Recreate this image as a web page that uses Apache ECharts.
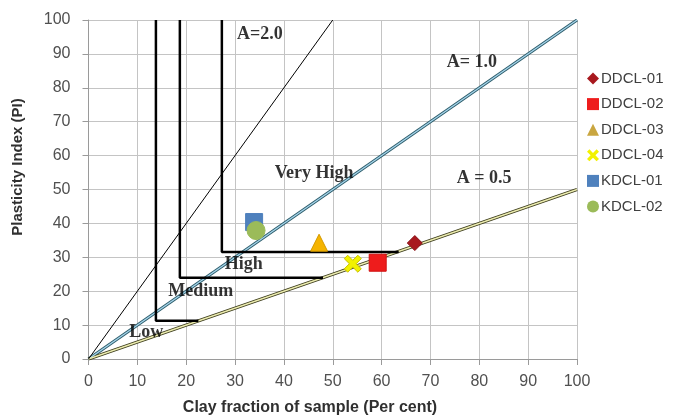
<!DOCTYPE html>
<html><head><meta charset="utf-8">
<script src="https://cdn.jsdelivr.net/npm/echarts@6/dist/echarts.min.js"></script>
<style>html,body{margin:0;padding:0;background:#fff}#c{width:696px;height:417px}</style>
</head><body><div id="c"></div>
<script>
var xTicks = [0,10,20,30,40,50,60,70,80,90,100];
var yTicks = [0,10,20,30,40,50,60,70,80,90,100];
var lineA20 = [[0,0],[50,100]];
var lineA10 = [[0,0],[100,100]];
var lineA05 = [[0,0],[100,50]];
var zoneLow = [[13.8,100],[13.8,11.3],[22.5,11.3]];
var zoneMedium = [[18.7,100],[18.7,24],[48,24]];
var zoneHigh = [[27.3,100],[27.3,31.6],[63.5,31.6]];
var sampleNames = ['DDCL-01','DDCL-02','DDCL-03','DDCL-04','KDCL-01','KDCL-02'];
var sampleCF = [66.8,59.2,47.2,54.1,33.9,34.3];
var samplePI = [34.2,28.4,34.3,28.1,40.4,37.9];
var annoText = ['A=2.0','A= 1.0','Very High','A = 0.5','High','Medium','Low'];
var annoX = [35.1,78.5,46.2,81.0,31.8,23.0,11.8];
var annoY = [95.9,87.4,54.7,53.2,27.9,20.0,7.9];

var xPath = 'path://M0,2 L2,0 L5,3 L8,0 L10,2 L7,5 L10,8 L8,10 L5,7 L2,10 L0,8 L3,5 Z';
var styles = [
  {symbol:'diamond', size:15, color:'#a8181e', border:'#8a1015'},
  {symbol:'rect', size:17, color:'#ee1c1c', border:'#d01010'},
  {symbol:'triangle', size:17, color:'#f5b400', border:'#d49a00', legendColor:'#c9a640'},
  {symbol:xPath, size:17, color:'#f2f200', border:'#c8c000'},
  {symbol:'rect', size:17, color:'#4f81bd', border:'#4f81bd'},
  {symbol:'circle', size:18, color:'#9bbb59', border:'#9bbb59'}
];

var series = [];
function ln(data, color, width, z){
  series.push({type:'line', data:data, showSymbol:false, symbol:'none', silent:true,
    lineStyle:{color:color, width:width}, z:z, animation:false});
}
ln(lineA10, '#2a5a68', 3.2, 2); ln(lineA10, '#a6d4ea', 1.4, 3);
ln(lineA05, '#3a3a1a', 3.2, 2); ln(lineA05, '#ececb0', 1.4, 3);
ln(lineA20, '#000000', 1, 3);
ln(zoneLow, '#000000', 2.5, 4);
ln(zoneMedium, '#000000', 2.5, 4);
ln(zoneHigh, '#000000', 2.5, 4);

var annoData = annoText.map(function(t,i){return {value:[annoX[i],annoY[i]], name:t};});
series.push({type:'scatter', data:annoData, symbolSize:0, silent:true, z:6, animation:false,
  label:{show:true, position:'inside', formatter:function(p){return p.name;},
    fontFamily:'Liberation Serif', fontWeight:'bold', fontSize:18, color:'#000'}});

sampleNames.forEach(function(n,i){
  var s = styles[i];
  series.push({type:'scatter', name:n, data:[[sampleCF[i], samplePI[i]]], symbol:s.symbol, symbolSize:s.size,
    itemStyle:{color:s.color, borderColor:s.border, borderWidth:1, opacity:1}, z:10, animation:false});
});

var chart = echarts.init(document.getElementById('c'), null, {renderer:'canvas'});
chart.setOption({
  backgroundColor:'#ffffff',
  animation:false,
  grid:{left:88.5, right:119, top:20, bottom:58, containLabel:false},
  xAxis:{type:'value', min:0, max:100, interval:10,
    axisLine:{show:true, onZero:false, lineStyle:{color:'#9a9a9a', width:1}},
    axisTick:{show:true, length:6, lineStyle:{color:'#9a9a9a'}},
    axisLabel:{margin:15, fontSize:16, color:'#505050', fontFamily:'Liberation Sans',
      formatter:function(v){return xTicks.indexOf(v)>=0?String(v):'';}},
    splitLine:{show:true, lineStyle:{color:'#c4c4c4', width:1}}},
  yAxis:{type:'value', min:0, max:100, interval:10,
    axisLine:{show:true, onZero:false, lineStyle:{color:'#9a9a9a', width:1}},
    axisTick:{show:true, length:6, lineStyle:{color:'#9a9a9a'}},
    axisLabel:{margin:18, fontSize:16, color:'#505050', fontFamily:'Liberation Sans',
      formatter:function(v){return yTicks.indexOf(v)>=0?String(v):'';}},
    splitLine:{show:true, lineStyle:{color:'#c4c4c4', width:1}}},
  legend:{orient:'vertical', left:582, top:66, itemGap:10.6, itemWidth:12, itemHeight:12,
    data:sampleNames.map(function(n,i){
      var s = styles[i];
      return {name:n, icon:s.symbol, itemStyle:{color:s.legendColor||s.color, borderWidth:0}};
    }),
    textStyle:{fontSize:15, color:'#404040', fontFamily:'Liberation Sans', padding:[0,0,0,-3]}},
  graphic:[
    {type:'text', x:310, y:408, style:{text:'Clay fraction of sample (Per cent)', font:'bold 16px "Liberation Sans"', fill:'#303030', align:'center', verticalAlign:'middle'}},
    {type:'text', x:18, y:167, rotation:Math.PI/2, style:{text:'Plasticity Index (PI)', font:'bold 15px "Liberation Sans"', fill:'#303030', align:'center', verticalAlign:'middle'}}
  ],
  series:series
});
</script></body></html>
